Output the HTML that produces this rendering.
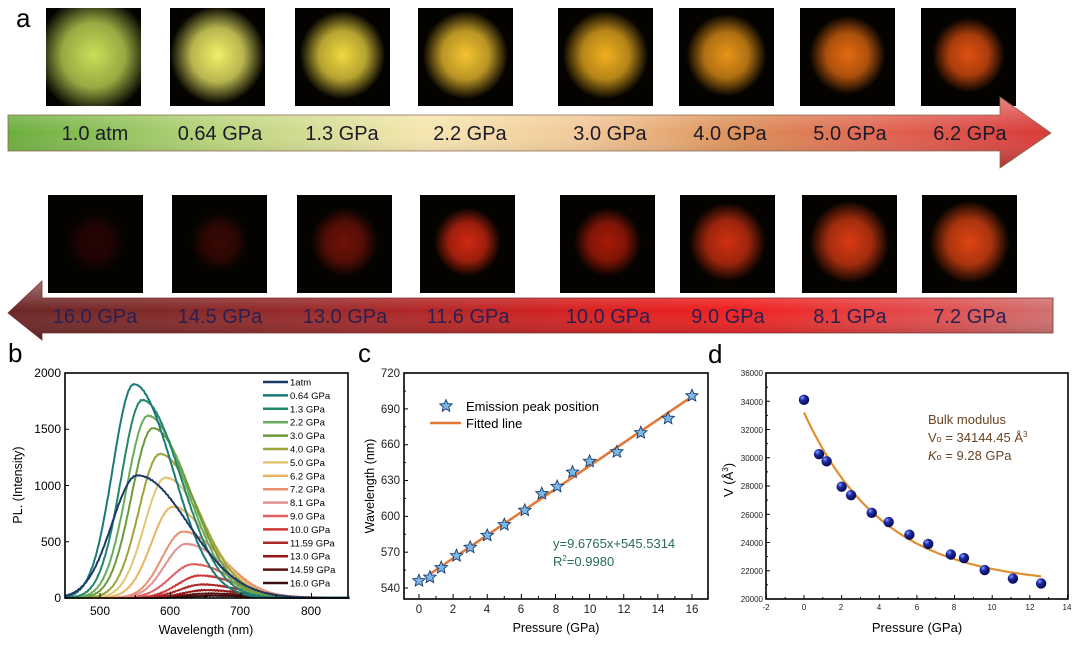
<!DOCTYPE html>
<html><head><meta charset="utf-8"><style>
body{margin:0;background:#fff;width:1082px;height:640px;overflow:hidden;font-family:"Liberation Sans",Arial,sans-serif}
</style></head><body>
<svg id="s" width="1082" height="640" xmlns="http://www.w3.org/2000/svg" font-family="Liberation Sans, Arial, sans-serif">
<defs>
<linearGradient id="ta" x1="0" x2="1" y1="0" y2="0">
<stop offset="0" stop-color="#6aae3c"/><stop offset="0.2" stop-color="#b8d47a"/><stop offset="0.4" stop-color="#f6e6b0"/><stop offset="0.55" stop-color="#f2c898"/><stop offset="0.7" stop-color="#dc9058"/><stop offset="0.85" stop-color="#e06050"/><stop offset="1" stop-color="#d83838"/></linearGradient>
<linearGradient id="ba" x1="0" x2="1" y1="0" y2="0">
<stop offset="0" stop-color="#6a2626"/><stop offset="0.3" stop-color="#9a2a2a"/><stop offset="0.55" stop-color="#d82020"/><stop offset="0.7" stop-color="#f02020"/><stop offset="0.9" stop-color="#e05050"/><stop offset="1" stop-color="#d07070"/></linearGradient>
<linearGradient id="sh" x1="0" x2="0" y1="0" y2="1"><stop offset="0" stop-color="#fff" stop-opacity="0.35"/><stop offset="0.5" stop-color="#fff" stop-opacity="0"/><stop offset="1" stop-color="#000" stop-opacity="0.25"/></linearGradient>
</defs>
<text x="16" y="27" font-size="26">a</text>
<g id="imgs"></g>
<path d="M8,115 L1000,115 L1000,97 L1051,133 L1000,168 L1000,151 L8,151 Z" fill="url(#ta)"/>
<path d="M8,115 L1000,115 L1000,97 L1051,133 L1000,168 L1000,151 L8,151 Z" fill="url(#sh)" stroke="#8a6a50" stroke-width="0.8"/>
<g font-size="20" fill="#1a1a2a" text-anchor="middle">
<text x="95" y="140">1.0 atm</text><text x="220" y="140">0.64 GPa</text><text x="342" y="140">1.3 GPa</text><text x="470" y="140">2.2 GPa</text><text x="610" y="140">3.0 GPa</text><text x="730" y="140">4.0 GPa</text><text x="850" y="140">5.0 GPa</text><text x="970" y="140">6.2 GPa</text></g>
<path d="M1053,298 L42,298 L42,281 L8,313 L42,340 L42,333 L1053,333 Z" fill="url(#ba)"/>
<path d="M1053,298 L42,298 L42,281 L8,313 L42,340 L42,333 L1053,333 Z" fill="url(#sh)" stroke="#7a3030" stroke-width="0.8"/>
<g font-size="20" fill="#2a2050" text-anchor="middle">
<text x="95" y="323">16.0 GPa</text><text x="220" y="323">14.5 GPa</text><text x="345" y="323">13.0 GPa</text><text x="468" y="323">11.6 GPa</text><text x="608" y="323">10.0 GPa</text><text x="728" y="323">9.0 GPa</text><text x="850" y="323">8.1 GPa</text><text x="970" y="323">7.2 GPa</text></g>

<text x="8" y="362" font-size="26">b</text>
<g id="pb"></g>
<rect x="65" y="373" width="283" height="225" fill="none" stroke="#000" stroke-width="1.6"/>
<g font-size="12" text-anchor="end"><text x="61" y="377">2000</text><text x="61" y="433">1500</text><text x="61" y="490">1000</text><text x="61" y="546">500</text><text x="61" y="602">0</text></g>
<g font-size="12" text-anchor="middle"><text x="100" y="615">500</text><text x="170" y="615">600</text><text x="240" y="615">700</text><text x="311" y="615">800</text></g>
<text x="206" y="634" font-size="12.5" text-anchor="middle">Wavelength (nm)</text>
<text transform="translate(22,485) rotate(-90)" font-size="12.5" text-anchor="middle">PL. (Intensity)</text>
<g id="leg" font-size="9.5"></g>

<text x="358" y="362" font-size="26">c</text>
<rect x="404" y="373" width="304" height="226" fill="none" stroke="#000" stroke-width="1.6"/>
<g id="pc"></g>
<g font-size="11.5" text-anchor="end" fill="#222"><text x="400" y="377">720</text><text x="400" y="413">690</text><text x="400" y="448">660</text><text x="400" y="484">630</text><text x="400" y="520">600</text><text x="400" y="556">570</text><text x="400" y="592">540</text></g>
<g font-size="11.5" text-anchor="middle" fill="#222"><text x="419" y="613">0</text><text x="453" y="613">2</text><text x="487" y="613">4</text><text x="521" y="613">6</text><text x="556" y="613">8</text><text x="590" y="613">10</text><text x="624" y="613">12</text><text x="658" y="613">14</text><text x="692" y="613">16</text></g>
<text x="556" y="632" font-size="12.5" text-anchor="middle">Pressure (GPa)</text>
<text transform="translate(374,486) rotate(-90)" font-size="12.5" text-anchor="middle">Wavelength (nm)</text>
<text x="466" y="411" font-size="13">Emission peak position</text>
<line x1="430" y1="423" x2="461" y2="423" stroke="#e07838" stroke-width="2.5"/>
<text x="466" y="428" font-size="13">Fitted line</text>
<text x="553" y="548" font-size="13" fill="#2a6a5a">y=9.6765x+545.5314</text>
<text x="553" y="566" font-size="13" fill="#2a6a5a">R<tspan font-size="8" dy="-5">2</tspan><tspan dy="5">=0.9980</tspan></text>

<text x="708" y="363" font-size="26">d</text>
<rect x="766" y="373" width="302" height="226" fill="none" stroke="#000" stroke-width="1.6"/>
<g id="pd"></g>
<g font-size="8" text-anchor="end" fill="#222"><text x="763" y="376">36000</text><text x="763" y="405">34000</text><text x="763" y="433">32000</text><text x="763" y="461">30000</text><text x="763" y="489">28000</text><text x="763" y="518">26000</text><text x="763" y="546">24000</text><text x="763" y="574">22000</text><text x="763" y="602">20000</text></g>
<g font-size="8" text-anchor="middle" fill="#222"><text x="766" y="610">-2</text><text x="804" y="610">0</text><text x="841" y="610">2</text><text x="879" y="610">4</text><text x="917" y="610">6</text><text x="954" y="610">8</text><text x="992" y="610">10</text><text x="1030" y="610">12</text><text x="1067" y="610">14</text></g>
<text x="917" y="632" font-size="13" text-anchor="middle">Pressure (GPa)</text>
<text transform="translate(733,480) rotate(-90)" font-size="13" text-anchor="middle">V (Å<tspan font-size="8" dy="-5">3</tspan><tspan dy="5">)</tspan></text>
<g font-size="13" fill="#6a4422"><text x="928" y="424">Bulk modulus</text><text x="928" y="442">V<tspan font-size="9">o</tspan> = 34144.45 Å<tspan font-size="8" dy="-5">3</tspan></text><text x="928" y="460"><tspan font-style="italic">K</tspan><tspan font-size="9">o</tspan> = 9.28 GPa</text></g>
</svg>
<script>
var NS="http://www.w3.org/2000/svg";
function el(p,t,a){var e=document.createElementNS(NS,t);for(var k in a)e.setAttribute(k,a[k]);p.appendChild(e);return e;}
var imgs=document.getElementById('imgs');
var defs=document.querySelector('defs');
var tx=[46,170,295,418,558,679,800,921],bx=[48,172,297,420,560,680,802,922];
var tc=['#c8e058','#f2f068','#f0d840','#f4c430','#f0b020','#e89418','#e46a10','#e05010'];
var tr=[0.6,0.5,0.45,0.45,0.45,0.42,0.4,0.38];
var bc=['#280404','#3a0804','#701208','#d02810','#a81a08','#d03010','#d83a12','#e04412'];
var br=[0.3,0.3,0.35,0.35,0.35,0.4,0.42,0.42];
function img(x,y,c,r,i){var g=el(defs,'radialGradient',{id:'g'+i,cx:'0.5',cy:'0.48',r:r});
el(g,'stop',{offset:'0','stop-color':c});el(g,'stop',{offset:'0.55','stop-color':c,'stop-opacity':'0.75'});el(g,'stop',{offset:'1','stop-color':c,'stop-opacity':'0'});
el(imgs,'rect',{x:x,y:y,width:95,height:98,fill:'#050300'});el(imgs,'rect',{x:x,y:y,width:95,height:98,fill:'url(#g'+i+')'});}
for(var i=0;i<8;i++){img(tx[i],8,tc[i],tr[i],'t'+i);img(bx[i],195,bc[i],br[i],'b'+i);}
var pb=document.getElementById('pb'),leg=document.getElementById('leg');
var S=[['1atm','#1c3a68',553,1090,36,72],['0.64 GPa','#1a7a78',548,1900,30,55],['1.3 GPa','#23866a',560,1760,30,55],['2.2 GPa','#6aac5c',568,1620,30,55],['3.0 GPa','#6c9c3a',575,1510,30,55],['4.0 GPa','#9ca43a',585,1280,30,55],['5.0 GPa','#e2c676',593,1070,30,55],['6.2 GPa','#eab462',603,810,30,55],['7.2 GPa','#ea9070',618,590,30,55],['8.1 GPa','#e29292',622,480,30,55],['9.0 GPa','#e06060',632,300,32,55],['10.0 GPa','#cc3838',642,200,32,55],['11.59 GPa','#ac2828',645,120,32,55],['13.0 GPa','#9a1616',650,70,32,55],['14.59 GPa','#5a1010',655,40,35,55],['16.0 GPa','#3a0e0e',660,20,35,55]];
function X(l){return 100+(l-500)*0.705;}function Y(v){return 598-v*0.1125;}
for(var j=S.length-1;j>=0;j--){var s=S[j],d='';for(var l=450;l<=854;l+=2){var sg=l<s[2]?s[4]:s[5];var v=s[3]*Math.exp(-Math.pow((l-s[2])/sg,2)/2)+ (Math.sin(l*1.7+j)*4);if(v<0)v=0;d+=(d?'L':'M')+X(l).toFixed(1)+','+Y(v).toFixed(1);}
el(pb,'path',{d:d,fill:'none',stroke:s[1],'stroke-width':2});}
for(var j=0;j<S.length;j++){var y=382+j*13.4;el(leg,'line',{x1:263,x2:288,y1:y,y2:y,stroke:S[j][1],'stroke-width':2.5});var t=el(leg,'text',{x:290,y:y+3.5});t.textContent=S[j][0];}
for(var k=0;k<=4;k++){el(pb,'line',{x1:65,x2:69,y1:Y(k*500),y2:Y(k*500),stroke:'#000'});}
for(var l=500;l<=800;l+=50){el(pb,'line',{x1:X(l),x2:X(l),y1:598,y2:l%100?595:593,stroke:'#000'});}
var pc=document.getElementById('pc');
function cx(p){return 419+p*17.06;}function cy(w){return 588-(w-540)*1.194;}
function star(p,x,y,r){var d='';for(var i=0;i<10;i++){var a=-Math.PI/2+i*Math.PI/5,rr=i%2?r*0.45:r;d+=(i?'L':'M')+(x+rr*Math.cos(a)).toFixed(1)+','+(y+rr*Math.sin(a)).toFixed(1);}el(p,'path',{d:d+'Z',fill:'#7ab8e8',stroke:'#1a3a6a','stroke-width':0.9});}
el(pc,'line',{x1:cx(0.64),y1:cy(9.6765*0.64+545.53),x2:cx(16),y2:cy(9.6765*16+545.53),stroke:'#e07838','stroke-width':2.5});
var C=[[0,546],[0.64,549],[1.3,557],[2.2,567],[3,574],[4,584],[5,593],[6.2,605],[7.2,619],[8.1,625],[9,637],[10,646],[11.6,654],[13,670],[14.6,682],[16,701]];
C.forEach(function(c){star(pc,cx(c[0]),cy(c[1]),6.5);});
star(pc,446,406,6.5);
for(var w=540;w<=720;w+=15)el(pc,'line',{x1:404,x2:w%30?406:408,y1:cy(w),y2:cy(w),stroke:'#000'});
for(var p=0;p<=16;p++)el(pc,'line',{x1:cx(p),x2:cx(p),y1:599,y2:p%2?596:594,stroke:'#000'});
var pd=document.getElementById('pd');
function dx(p){return 804+p*18.82;}function dy(v){return 599-(v-20000)*0.014125;}
var d='';for(var p=0;p<=12.6;p+=0.1){d+=(d?'L':'M')+dx(p).toFixed(1)+','+dy(21000+12200*Math.exp(-p/4.2)).toFixed(1);}
el(pd,'path',{d:d,fill:'none',stroke:'#e09030','stroke-width':2.2});
var gd=el(defs,'radialGradient',{id:'ball',cx:'0.35',cy:'0.3',r:'0.7'});el(gd,'stop',{offset:'0','stop-color':'#8a9aff'});el(gd,'stop',{offset:'0.4','stop-color':'#1a2aa0'});el(gd,'stop',{offset:'1','stop-color':'#0a0a50'});
[[0,34100],[0.8,30250],[1.2,29750],[2,27950],[2.5,27350],[3.6,26100],[4.5,25450],[5.6,24550],[6.6,23900],[7.8,23150],[8.5,22900],[9.6,22050],[11.1,21450],[12.6,21100]].forEach(function(c){el(pd,'circle',{cx:dx(c[0]),cy:dy(c[1]),r:5.2,fill:'url(#ball)'});});
for(var v=20000;v<=36000;v+=1000)el(pd,'line',{x1:766,x2:v%2000?768:770,y1:dy(v),y2:dy(v),stroke:'#000'});
for(var p=-2;p<=14;p++)el(pd,'line',{x1:dx(p),x2:dx(p),y1:599,y2:p%2?597:595,stroke:'#000'});
</script>
</body></html>
